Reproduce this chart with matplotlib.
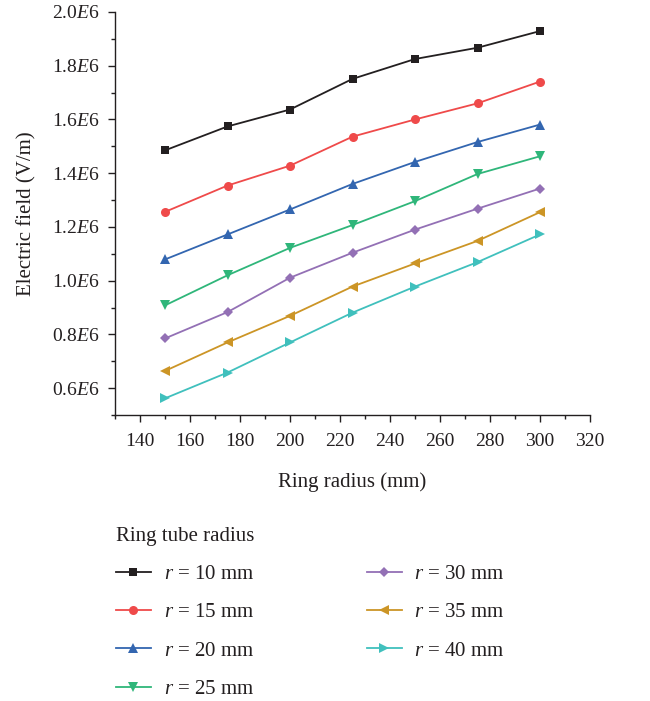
import matplotlib
matplotlib.use("Agg")
import matplotlib.pyplot as plt
from matplotlib.ticker import MultipleLocator, FuncFormatter

plt.rcParams['font.family'] = ['Liberation Serif', 'DejaVu Serif']
plt.rcParams['mathtext.fontset'] = 'custom'
plt.rcParams['mathtext.rm'] = 'Liberation Serif'
plt.rcParams['mathtext.it'] = 'Liberation Serif:italic'

ring_radius = [150, 175, 200, 225, 250, 275, 300]
r10 = [1.485, 1.574, 1.637, 1.751, 1.825, 1.867, 1.929]
r15 = [1.256, 1.354, 1.428, 1.536, 1.600, 1.660, 1.741]
r20 = [1.079, 1.172, 1.265, 1.360, 1.442, 1.516, 1.581]
r25 = [0.908, 1.020, 1.122, 1.207, 1.296, 1.397, 1.463]
r30 = [0.785, 0.883, 1.011, 1.104, 1.190, 1.268, 1.343]
r35 = [0.664, 0.770, 0.869, 0.978, 1.064, 1.148, 1.255]
r40 = [0.562, 0.658, 0.770, 0.881, 0.978, 1.069, 1.172]

series = [r10, r15, r20, r25, r30, r35, r40]
labels = [r"$r$ = 10 mm", r"$r$ = 15 mm", r"$r$ = 20 mm", r"$r$ = 25 mm",
          r"$r$ = 30 mm", r"$r$ = 35 mm", r"$r$ = 40 mm"]
colors = ['#231f20', '#ef4a4a', '#3366b0', '#2fb67a', '#9370b5', '#cc9526', '#40c0bd']
markers = ['s', 'o', '^', 'v', 'D', '<', '>']
msizes = [5.5, 6.5, 7, 7, 5.5, 7, 7]

fig = plt.figure(figsize=(6.5, 7.01), dpi=100)
ax = fig.add_axes([115/650, 1 - 415/701, (590-115)/650, (415-12)/701])

for ys, lab, c, m, ms in zip(series, labels, colors, markers, msizes):
    ax.plot(ring_radius, [v * 1e6 for v in ys], color=c, marker=m, markersize=ms,
            linewidth=1.3, label=lab, markeredgewidth=0)

ax.set_xlim(130, 320)
ax.set_ylim(0.5e6, 2.0e6)
ax.xaxis.set_major_locator(MultipleLocator(20))
ax.xaxis.set_minor_locator(MultipleLocator(10))
ax.yaxis.set_major_locator(MultipleLocator(0.2e6))
ax.yaxis.set_minor_locator(MultipleLocator(0.1e6))

def yfmt(v, pos):
    return r"%.1f$\mathit{E}$6" % (v / 1e6)
ax.yaxis.set_major_formatter(FuncFormatter(yfmt))

for s in ['top', 'right']:
    ax.spines[s].set_visible(False)
for s in ['left', 'bottom']:
    ax.spines[s].set_linewidth(1.0)
    ax.spines[s].set_color('#231f20')

ax.tick_params(axis='both', which='major', direction='out', length=5, width=1.0,
               labelsize=14, colors='#231f20')
ax.tick_params(axis='both', which='minor', direction='out', length=3, width=1.0,
               colors='#231f20')
ax.tick_params(axis='y', pad=6)
ax.tick_params(axis='x', pad=8)

ax.set_xlabel("Ring radius (mm)", fontsize=15, color='#231f20', labelpad=16)
ax.set_ylabel("Electric field (V/m)", fontsize=15, color='#231f20', labelpad=11)

handles, labs = ax.get_legend_handles_labels()
leg = fig.legend(handles, labs, loc='upper left', bbox_to_anchor=(101/650, 1 - 512/701),
                 ncol=2, frameon=False, fontsize=15, title="Ring tube radius",
                 title_fontsize=15, alignment='left', handlelength=1.7,
                 handletextpad=0.6, columnspacing=5.4, labelspacing=0.9, borderpad=0.2)
leg.get_title().set_color('#231f20')
for t in leg.get_texts():
    t.set_color('#231f20')

fig.savefig("out.png", dpi=100)
